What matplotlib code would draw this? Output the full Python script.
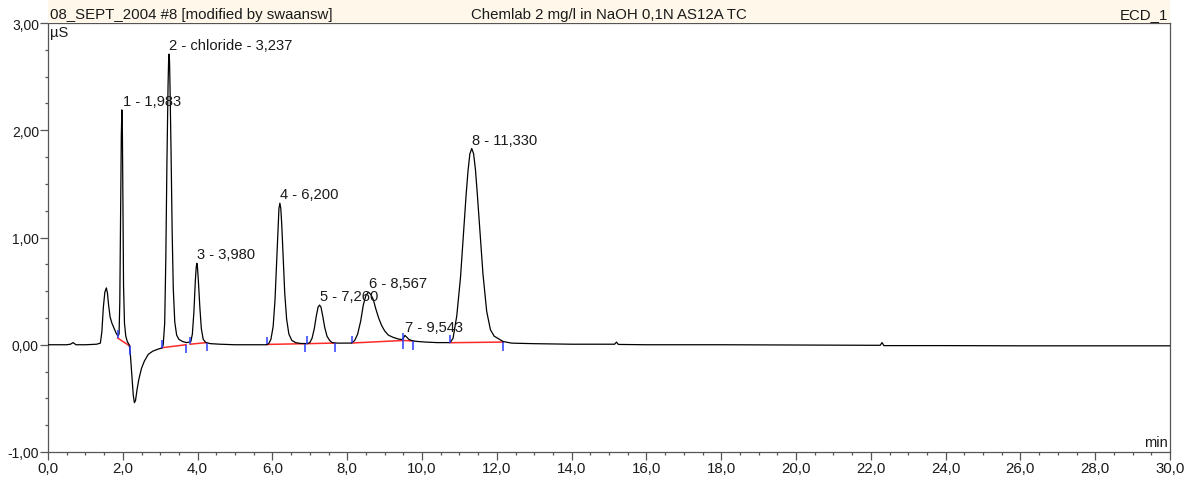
import matplotlib
matplotlib.use("Agg")
import matplotlib.pyplot as plt
from matplotlib.ticker import FixedLocator, MultipleLocator

plt.rcParams['font.family'] = ['Liberation Sans', 'DejaVu Sans']

# ---------------- data ----------------
# chromatogram trace (time in min, signal in uS)
trace_time = [0.00, 0.50, 0.60, 0.67, 0.75, 1.00, 1.30, 1.40,
              1.44, 1.48, 1.52, 1.56, 1.59, 1.62, 1.66, 1.71, 1.76, 1.82, 1.87,
              1.90, 1.92, 1.94, 1.96, 1.975, 1.99, 2.005, 2.02, 2.045, 2.08, 2.12, 2.17,
              2.20, 2.24, 2.28, 2.31, 2.34, 2.38, 2.43, 2.50, 2.58, 2.68, 2.80, 2.95, 3.05,
              3.08, 3.12, 3.15, 3.18, 3.21, 3.225, 3.237, 3.25, 3.27, 3.29, 3.32, 3.35,
              3.39, 3.44,
              3.50, 3.60, 3.70, 3.78,
              3.82, 3.86, 3.90, 3.94, 3.965, 3.98, 3.995, 4.02, 4.06, 4.10, 4.15, 4.22,
              4.35, 4.60,
              5.00, 5.50, 5.85,
              5.90, 5.96, 6.02, 6.07, 6.11, 6.15, 6.175, 6.20, 6.225, 6.25, 6.29, 6.33,
              6.38, 6.44,
              6.52, 6.62, 6.75, 6.87,
              6.93, 7.00, 7.06, 7.12, 7.17, 7.22, 7.26, 7.30, 7.35, 7.40, 7.46, 7.53,
              7.60, 7.67, 7.80, 8.00, 8.12,
              8.20, 8.28, 8.36, 8.43, 8.50, 8.567, 8.63, 8.70, 8.76, 8.84, 8.92, 9.00,
              9.10, 9.22, 9.35, 9.46,
              9.50, 9.543, 9.58, 9.65, 9.72, 9.77, 9.90, 10.10, 10.40, 10.60, 10.75,
              10.83, 10.93, 11.03, 11.13, 11.18, 11.23, 11.28, 11.33, 11.38, 11.43,
              11.48, 11.53, 11.63, 11.73,
              11.83, 11.93, 12.05, 12.17, 12.40, 13.00, 14.00, 15.00, 15.15, 15.20,
              15.25, 16.00, 18.00, 20.00, 22.00, 22.25, 22.30, 22.35, 24.00, 26.00,
              28.00, 30.00]
trace_signal = [0.000, 0.000, 0.005, 0.020, 0.000, 0.000, 0.005, 0.015,
                0.120, 0.350, 0.490, 0.530, 0.480, 0.370, 0.260, 0.200, 0.160, 0.110, 0.080,
                0.100, 0.400, 1.150, 1.950, 2.190, 1.950, 1.200, 0.550, 0.200, 0.080,
                0.030, 0.000,
                -0.080, -0.280, -0.470, -0.540, -0.520, -0.420, -0.320, -0.220, -0.150,
                -0.090, -0.060, -0.040, -0.030,
                0.000, 0.200, 0.800, 1.700, 2.420, 2.650, 2.710, 2.640, 2.250, 1.800,
                1.050, 0.520,
                0.210, 0.090,
                0.050, 0.030, 0.020, 0.025,
                0.030, 0.100, 0.300, 0.600, 0.730, 0.760, 0.730, 0.600, 0.350, 0.150,
                0.050, 0.020,
                0.010, 0.005,
                0.000, 0.000, 0.000,
                0.010, 0.050, 0.170, 0.420, 0.750, 1.100, 1.270, 1.320, 1.270, 1.120,
                0.800, 0.480,
                0.240, 0.100,
                0.040, 0.020, 0.012, 0.010,
                0.010, 0.020, 0.060, 0.150, 0.260, 0.350, 0.370, 0.350, 0.260, 0.160,
                0.080, 0.040,
                0.020, 0.016, 0.015, 0.015, 0.016,
                0.040, 0.100, 0.220, 0.370, 0.460, 0.490, 0.470, 0.420, 0.340, 0.250,
                0.180, 0.130,
                0.090, 0.070, 0.055, 0.048,
                0.060, 0.087, 0.075, 0.050, 0.040, 0.035, 0.030, 0.025, 0.020, 0.020,
                0.020,
                0.060, 0.270, 0.630, 1.140, 1.400, 1.620, 1.780, 1.830, 1.780, 1.630,
                1.400, 1.150, 0.660, 0.310,
                0.140, 0.080, 0.055, 0.030, 0.015, 0.010, 0.005, 0.005, 0.005, 0.025,
                0.003, 0.000, 0.000, -0.003, -0.005, -0.005, 0.020, -0.008, -0.008,
                -0.010, -0.010, -0.010]

# identified peaks
peak_numbers = [1, 2, 3, 4, 5, 6, 7, 8]
peak_names = ["", "chloride", "", "", "", "", "", ""]
peak_times = [1.983, 3.237, 3.980, 6.200, 7.260, 8.567, 9.543, 11.330]
peak_heights = [2.19, 2.71, 0.76, 1.32, 0.37, 0.49, 0.087, 1.83]

# integration baselines (start / end time and signal)
base_start_time = [1.86, 3.04, 3.80, 5.85, 6.93, 8.12, 9.50, 10.75]
base_start_value = [0.063, -0.028, 0.005, 0.003, 0.010, 0.016, 0.040, 0.019]
base_end_time = [2.19, 3.69, 4.24, 6.87, 7.67, 9.50, 9.77, 12.17]
base_end_value = [-0.012, 0.000, 0.020, 0.010, 0.016, 0.040, 0.035, 0.025]

# axes ticks
x_ticks = [0, 2, 4, 6, 8, 10, 12, 14, 16, 18, 20, 22, 24, 26, 28, 30]
x_tick_labels = ["0,0", "2,0", "4,0", "6,0", "8,0", "10,0", "12,0", "14,0", "16,0",
                 "18,0", "20,0", "22,0", "24,0", "26,0", "28,0", "30,0"]
y_ticks = [-1, 0, 1, 2, 3]
y_tick_labels = ["-1,00", "0,00", "1,00", "2,00", "3,00"]

header_left = "08_SEPT_2004 #8 [modified by swaansw]"
header_center = "Chemlab 2 mg/l in NaOH 0,1N AS12A TC"
header_right = "ECD_1"

# ---------------- figure ----------------
W, H = 1192, 485
fig = plt.figure(figsize=(W / 100, H / 100), dpi=100)
fig.patch.set_facecolor('white')

axl, axb, axr, axt = 48, 32, 1170, 461  # pixel box of the plot area (from bottom)
ax = fig.add_axes([axl / W, axb / H, (axr - axl) / W, (axt - axb) / H])
hdr = fig.add_axes([axl / W, axt / H, (axr - axl) / W, (H - axt) / H])

textc = '#1a1a1a'
spinec = '#555555'

# header band
hdr.set_facecolor('#fff8ea')
hdr.set_xticks([])
hdr.set_yticks([])
for s in hdr.spines.values():
    s.set_visible(False)
hdr.text(0.002, 0.2, header_left, transform=hdr.transAxes, ha='left', va='baseline',
         fontsize=10.8, color=textc)
hdr.text(0.5, 0.2, header_center, transform=hdr.transAxes, ha='center', va='baseline',
         fontsize=10.8, color=textc)
hdr.text(0.998, 0.2, header_right, transform=hdr.transAxes, ha='right', va='baseline',
         fontsize=10.8, color=textc)

# trace
ax.plot(trace_time, trace_signal, color='black', lw=0.9, zorder=3)

# integration baselines
for t0, v0, t1, v1 in zip(base_start_time, base_start_value, base_end_time, base_end_value):
    ax.plot([t0, t1], [v0, v1], color='#ff2a2a', lw=1.1, zorder=2)
ax.vlines(base_start_time, base_start_value,
          [v + 0.07 for v in base_start_value], color='#2b3cff', lw=1.1, zorder=4)
ax.vlines(base_end_time, [v - 0.08 for v in base_end_value],
          base_end_value, color='#2b3cff', lw=1.1, zorder=4)

# peak labels
for n, name, t, h in zip(peak_numbers, peak_names, peak_times, peak_heights):
    ts = f"{t:.3f}".replace('.', ',')
    label = f"{n} - {name} - {ts}" if name else f"{n} - {ts}"
    ax.annotate(label, xy=(t, h), xytext=(0.3, 3.5), textcoords='offset points',
                ha='left', va='baseline', fontsize=10.6, color=textc, zorder=5)

# axes
ax.set_xlim(0, 30)
ax.set_ylim(-1, 3)
ax.xaxis.set_major_locator(FixedLocator(x_ticks))
ax.set_xticklabels(x_tick_labels)
ax.xaxis.set_minor_locator(MultipleLocator(0.5))
ax.yaxis.set_major_locator(FixedLocator(y_ticks))
ax.set_yticklabels(y_tick_labels)
ax.yaxis.set_minor_locator(MultipleLocator(0.25))
ax.tick_params(axis='both', which='major', direction='out', length=6, width=0.9,
               color=spinec, labelcolor=textc)
ax.tick_params(axis='both', which='minor', direction='out', length=2.5, width=0.9,
               color=spinec)
ax.tick_params(axis='x', which='major', labelsize=10.8, pad=0.5)
ax.tick_params(axis='y', which='major', labelsize=10.0, pad=0.5)
for s in ax.spines.values():
    s.set_color(spinec)
    s.set_linewidth(0.9)

ax.text(0.002, 0.995, "µS", transform=ax.transAxes, ha='left', va='top',
        fontsize=10.5, color=textc)
ax.text(0.998, 0.008, "min", transform=ax.transAxes, ha='right', va='bottom',
        fontsize=10.5, color=textc)

fig.savefig("out.png", dpi=100)
